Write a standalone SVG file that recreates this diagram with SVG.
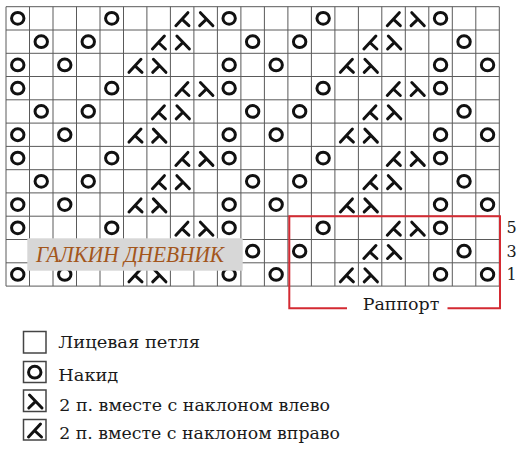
<svg xmlns="http://www.w3.org/2000/svg" width="523" height="452" viewBox="0 0 523 452">
<style>
.grid{fill:none;stroke:#5a5a5a;stroke-width:1}
.sym{fill:none;stroke:#111;stroke-width:3;stroke-linecap:round;stroke-linejoin:round}
.txt{font-family:'DejaVu Serif','Liberation Serif',serif;fill:#1a1a1a}
.wm{font-family:'Liberation Serif','DejaVu Serif',serif;font-style:italic;fill:#a3561c}
.lbox{fill:#fff;stroke:#444;stroke-width:1.5}
</style>
<defs>
<g id="o"><ellipse class="sym" cx="11.75" cy="11.65" rx="6.2" ry="5.9"/></g>
<g id="k"><path class="sym" d="M5.5,19 L17.5,6 M11.5,12.5 L18.5,19"/></g>
<g id="l"><path class="sym" d="M6.5,6 L19,19 M12.6,12.4 L5.8,19"/></g>
</defs>
<rect width="523" height="452" fill="#fff"/>
<g id="grid">
<path class="grid" d="M6,6.7V286.1M29.5,6.7V286.1M53,6.7V286.1M76.5,6.7V286.1M100,6.7V286.1M123.5,6.7V286.1M146.9,6.7V286.1M170.4,6.7V286.1M193.9,6.7V286.1M217.4,6.7V286.1M240.9,6.7V286.1M264.4,6.7V286.1M287.9,6.7V286.1M311.4,6.7V286.1M334.9,6.7V286.1M358.4,6.7V286.1M381.8,6.7V286.1M405.3,6.7V286.1M428.8,6.7V286.1M452.3,6.7V286.1M475.8,6.7V286.1M499.3,6.7V286.1
M6,6.7H499.3M6,30H499.3M6,53.3H499.3M6,76.5H499.3M6,99.8H499.3M6,123.1H499.3M6,146.4H499.3M6,169.7H499.3M6,192.9H499.3M6,216.2H499.3M6,239.5H499.3M6,262.8H499.3M6,286.1H499.3"/>
</g>
<g id="symbols">
<use href="#o" x="6" y="6.7"/><use href="#o" x="100" y="6.7"/><use href="#k" x="170.4" y="6.7"/><use href="#l" x="193.9" y="6.7"/><use href="#o" x="217.4" y="6.7"/><use href="#o" x="311.4" y="6.7"/><use href="#k" x="381.8" y="6.7"/><use href="#l" x="405.3" y="6.7"/><use href="#o" x="428.8" y="6.7"/>
<use href="#o" x="29.5" y="30"/><use href="#o" x="76.5" y="30"/><use href="#k" x="146.9" y="30"/><use href="#l" x="170.4" y="30"/><use href="#o" x="240.9" y="30"/><use href="#o" x="287.9" y="30"/><use href="#k" x="358.4" y="30"/><use href="#l" x="381.8" y="30"/><use href="#o" x="452.3" y="30"/>
<use href="#o" x="6" y="53.3"/><use href="#o" x="53" y="53.3"/><use href="#k" x="123.5" y="53.3"/><use href="#l" x="146.9" y="53.3"/><use href="#o" x="217.4" y="53.3"/><use href="#o" x="264.4" y="53.3"/><use href="#k" x="334.9" y="53.3"/><use href="#l" x="358.4" y="53.3"/><use href="#o" x="428.8" y="53.3"/><use href="#o" x="475.8" y="53.3"/>
<use href="#o" x="6" y="76.5"/><use href="#o" x="100" y="76.5"/><use href="#k" x="170.4" y="76.5"/><use href="#l" x="193.9" y="76.5"/><use href="#o" x="217.4" y="76.5"/><use href="#o" x="311.4" y="76.5"/><use href="#k" x="381.8" y="76.5"/><use href="#l" x="405.3" y="76.5"/><use href="#o" x="428.8" y="76.5"/>
<use href="#o" x="29.5" y="99.8"/><use href="#o" x="76.5" y="99.8"/><use href="#k" x="146.9" y="99.8"/><use href="#l" x="170.4" y="99.8"/><use href="#o" x="240.9" y="99.8"/><use href="#o" x="287.9" y="99.8"/><use href="#k" x="358.4" y="99.8"/><use href="#l" x="381.8" y="99.8"/><use href="#o" x="452.3" y="99.8"/>
<use href="#o" x="6" y="123.1"/><use href="#o" x="53" y="123.1"/><use href="#k" x="123.5" y="123.1"/><use href="#l" x="146.9" y="123.1"/><use href="#o" x="217.4" y="123.1"/><use href="#o" x="264.4" y="123.1"/><use href="#k" x="334.9" y="123.1"/><use href="#l" x="358.4" y="123.1"/><use href="#o" x="428.8" y="123.1"/><use href="#o" x="475.8" y="123.1"/>
<use href="#o" x="6" y="146.4"/><use href="#o" x="100" y="146.4"/><use href="#k" x="170.4" y="146.4"/><use href="#l" x="193.9" y="146.4"/><use href="#o" x="217.4" y="146.4"/><use href="#o" x="311.4" y="146.4"/><use href="#k" x="381.8" y="146.4"/><use href="#l" x="405.3" y="146.4"/><use href="#o" x="428.8" y="146.4"/>
<use href="#o" x="29.5" y="169.7"/><use href="#o" x="76.5" y="169.7"/><use href="#k" x="146.9" y="169.7"/><use href="#l" x="170.4" y="169.7"/><use href="#o" x="240.9" y="169.7"/><use href="#o" x="287.9" y="169.7"/><use href="#k" x="358.4" y="169.7"/><use href="#l" x="381.8" y="169.7"/><use href="#o" x="452.3" y="169.7"/>
<use href="#o" x="6" y="192.9"/><use href="#o" x="53" y="192.9"/><use href="#k" x="123.5" y="192.9"/><use href="#l" x="146.9" y="192.9"/><use href="#o" x="217.4" y="192.9"/><use href="#o" x="264.4" y="192.9"/><use href="#k" x="334.9" y="192.9"/><use href="#l" x="358.4" y="192.9"/><use href="#o" x="428.8" y="192.9"/><use href="#o" x="475.8" y="192.9"/>
<use href="#o" x="6" y="216.2"/><use href="#o" x="100" y="216.2"/><use href="#k" x="170.4" y="216.2"/><use href="#l" x="193.9" y="216.2"/><use href="#o" x="217.4" y="216.2"/><use href="#o" x="311.4" y="216.2"/><use href="#k" x="381.8" y="216.2"/><use href="#l" x="405.3" y="216.2"/><use href="#o" x="428.8" y="216.2"/>
<use href="#o" x="29.5" y="239.5"/><use href="#o" x="76.5" y="239.5"/><use href="#k" x="146.9" y="239.5"/><use href="#l" x="170.4" y="239.5"/><use href="#o" x="240.9" y="239.5"/><use href="#o" x="287.9" y="239.5"/><use href="#k" x="358.4" y="239.5"/><use href="#l" x="381.8" y="239.5"/><use href="#o" x="452.3" y="239.5"/>
<use href="#o" x="6" y="262.8"/><use href="#o" x="53" y="262.8"/><use href="#k" x="123.5" y="262.8"/><use href="#l" x="146.9" y="262.8"/><use href="#o" x="217.4" y="262.8"/><use href="#o" x="264.4" y="262.8"/><use href="#k" x="334.9" y="262.8"/><use href="#l" x="358.4" y="262.8"/><use href="#o" x="428.8" y="262.8"/><use href="#o" x="475.8" y="262.8"/>
</g>
<g id="watermark">
<rect x="27.3" y="238.3" width="215.4" height="32.4" fill="#d7d7d7"/>
<text class="wm" x="36" y="262" font-size="24" textLength="188" lengthAdjust="spacingAndGlyphs">ГАЛКИН ДНЕВНИК</text>
</g>
<g id="rapport">
<path d="M347,308.3H289.3V216.2H500V308.3H447.5" fill="none" stroke="#d42a32" stroke-width="2"/>
<text class="txt" x="362.7" y="310" font-size="17" textLength="76.7" lengthAdjust="spacingAndGlyphs">Раппорт</text>
<text class="txt" x="506.5" y="233" font-size="16">5</text>
<text class="txt" x="506.5" y="256.5" font-size="16">3</text>
<text class="txt" x="506.5" y="280" font-size="16">1</text>
</g>
<g id="legend-knit">
<rect class="lbox" x="23.5" y="331.5" width="22.5" height="21.5"/>
<text class="txt" x="58.3" y="348.3" font-size="17" textLength="141.7" lengthAdjust="spacingAndGlyphs">Лицевая петля</text>
</g>
<g id="legend-yo">
<rect class="lbox" x="23.5" y="361.5" width="22.5" height="21"/>
<use href="#o" x="23" y="360.5"/>
<text class="txt" x="58.3" y="381.3" font-size="17" textLength="60" lengthAdjust="spacingAndGlyphs">Накид</text>
</g>
<g id="legend-left">
<rect class="lbox" x="23.5" y="390" width="22.5" height="21.5"/>
<use href="#l" x="23" y="389"/>
<text class="txt" x="59.3" y="410.5" font-size="17" textLength="270.7" lengthAdjust="spacingAndGlyphs">2 п. вместе с наклоном влево</text>
</g>
<g id="legend-right">
<rect class="lbox" x="23.5" y="419.5" width="22.5" height="20.5"/>
<use href="#k" x="23" y="418"/>
<text class="txt" x="59.3" y="439.3" font-size="17" textLength="280.7" lengthAdjust="spacingAndGlyphs">2 п. вместе с наклоном вправо</text>
</g>
</svg>
